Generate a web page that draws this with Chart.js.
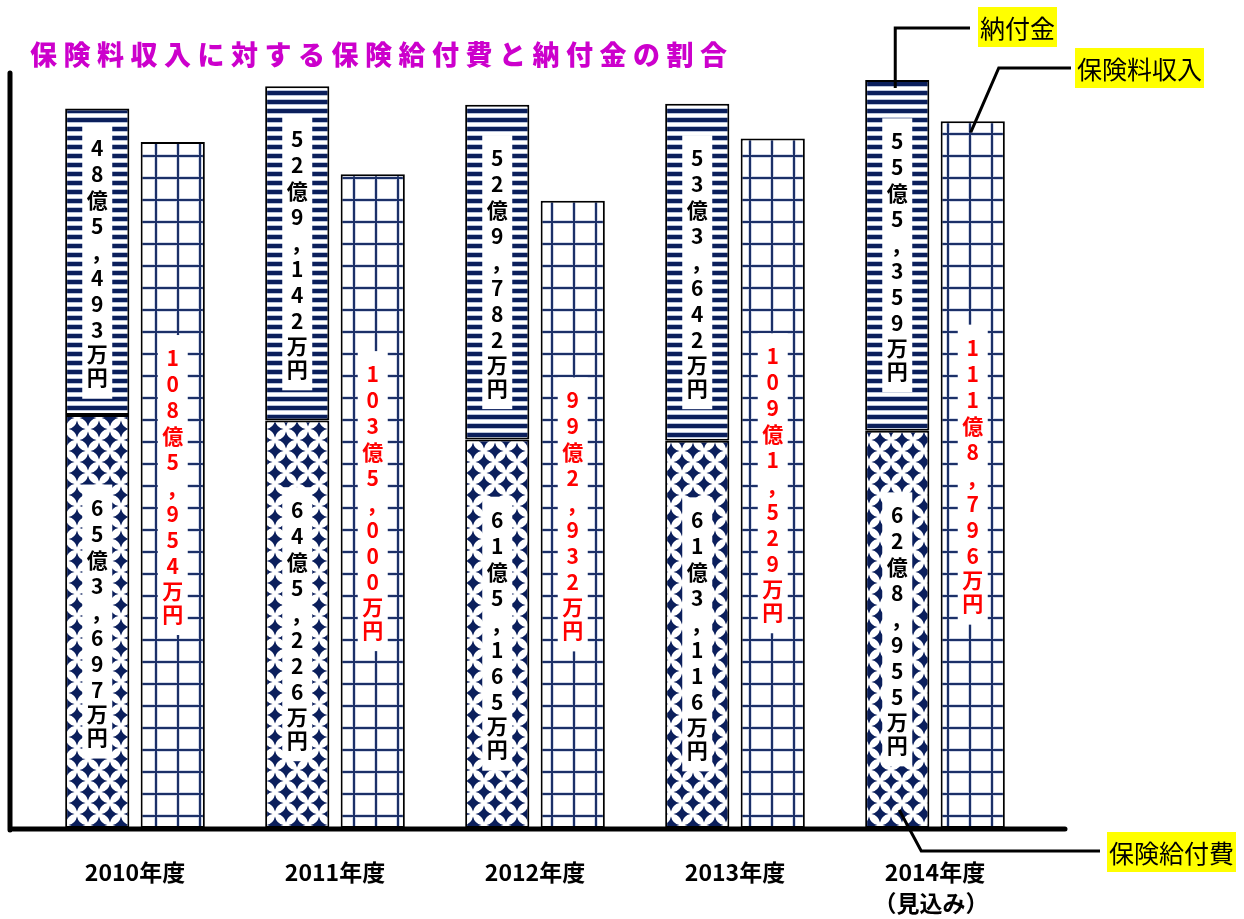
<!DOCTYPE html>
<html lang="ja">
<head>
<meta charset="utf-8">
<title>保険料収入に対する保険給付費と納付金の割合</title>
<script src="https://cdn.jsdelivr.net/npm/chart.js@4.4.1/dist/chart.umd.min.js"></script>
<style>
  html, body { margin: 0; padding: 0; background: #fff; }
  #wrap { width: 1244px; height: 919px; }
</style>
</head>
<body>
<div id="wrap"><canvas id="chart" width="1244" height="919"></canvas></div>
<script>
const years = ['2010年度', '2011年度', '2012年度', '2013年度', '2014年度'];
const yearNotes = ['', '', '', '', '（見込み）'];
// 単位: 万円
const benefits = [653697, 645226, 615165, 613116, 628955];     // 保険給付費
const levies = [485493, 529142, 529782, 533642, 555359];       // 納付金
const incomes = [1085954, 1035000, 992932, 1091529, 1118796];  // 保険料収入
const titleText = '保険料収入に対する保険給付費と納付金の割合';
const yMax = 1200000;

const NAVY = '#0b1f5c';
const FONT = '"Noto Sans CJK JP", "Noto Sans", sans-serif';

function makeTile(w, h, draw) {
    const c = document.createElement('canvas');
    c.width = w;
    c.height = h;
    const g = c.getContext('2d');
    g.fillStyle = '#fff';
    g.fillRect(0, 0, w, h);
    draw(g);
    return document.getElementById('chart').getContext('2d').createPattern(c, 'repeat');
}

const stripes = makeTile(9, 9, (g) => {
    g.fillStyle = '#b9c3da';
    g.fillRect(0, 0, 9, 1);
    g.fillRect(0, 5, 9, 1);
    g.fillStyle = NAVY;
    g.fillRect(0, 1, 9, 4);
});
const grid = makeTile(22, 22, (g) => {
    g.fillStyle = '#d3d9e8';
    g.fillRect(0, 0, 4, 22);
    g.fillRect(0, 0, 22, 4);
    g.fillStyle = '#1c3068';
    g.fillRect(1, 0, 2, 22);
    g.fillRect(0, 1, 22, 2);
});
const diamonds = makeTile(22, 22, (g) => {
    g.fillStyle = NAVY;
    const d = (cx, cy, r) => {
        g.beginPath();
        g.moveTo(cx, cy - r);
        g.quadraticCurveTo(cx + 1.5, cy - 1.5, cx + r, cy);
        g.quadraticCurveTo(cx + 1.5, cy + 1.5, cx, cy + r);
        g.quadraticCurveTo(cx - 1.5, cy + 1.5, cx - r, cy);
        g.quadraticCurveTo(cx - 1.5, cy - 1.5, cx, cy - r);
        g.closePath();
        g.fill();
    };
    d(11, 11, 8.5);
    d(0, 0, 8.5); d(22, 0, 8.5); d(0, 22, 8.5); d(22, 22, 8.5);
});

function toChars(v) {
    const oku = Math.floor(v / 10000);
    const man = (v % 10000).toLocaleString('en-US');
    return (oku + '億' + man + '万円').split('');
}

function callout(ctx, text, bx, by, pts) {
    ctx.save();
    ctx.strokeStyle = '#000';
    ctx.lineWidth = 3;
    ctx.beginPath();
    ctx.moveTo(pts[0][0], pts[0][1]);
    for (let k = 1; k < pts.length; k++) ctx.lineTo(pts[k][0], pts[k][1]);
    ctx.stroke();
    ctx.font = '25px ' + FONT;
    const w = ctx.measureText(text).width;
    ctx.fillStyle = '#ffff00';
    ctx.fillRect(bx, by, w + 4, 40);
    ctx.fillStyle = '#000';
    ctx.textAlign = 'left';
    ctx.textBaseline = 'middle';
    ctx.fillText(text, bx + 2, by + 21);
    ctx.restore();
}

const decor = {
    id: 'decor',
    afterDatasetsDraw(chart) {
        const ctx = chart.ctx;
        const area = chart.chartArea;

        // value labels inside the bars
        chart.data.datasets.forEach((ds, i) => {
            const meta = chart.getDatasetMeta(i);
            meta.data.forEach((el, j) => {
                const chars = toChars(ds.data[j]);
                const steps = chars.map(ch => (ch === '万' || ch === '円') ? 23 : 26);
                const total = steps.reduce((a, b) => a + b, 0);
                const cy = (el.y + el.base) / 2;
                const top = cy - total / 2 - 10;
                ctx.save();
                ctx.fillStyle = '#fff';
                ctx.fillRect(el.x - 15, top, 30, total + 20);
                ctx.fillStyle = ds.textColor;
                ctx.font = 'bold 21px ' + FONT;
                ctx.textAlign = 'center';
                ctx.textBaseline = 'middle';
                let y = top + 10;
                chars.forEach((ch, k) => {
                    ctx.fillText(ch === ',' ? '，' : ch, el.x + (ch === ',' ? 4 : 0), y + steps[k] / 2);
                    y += steps[k];
                });
                ctx.restore();
            });
        });

        // axes
        ctx.save();
        ctx.strokeStyle = '#000';
        ctx.lineWidth = 5;
        ctx.lineCap = 'round';
        ctx.beginPath();
        ctx.moveTo(area.left - 25, area.top + 3);
        ctx.lineTo(area.left - 25, area.bottom + 2);
        ctx.moveTo(area.left - 25, area.bottom + 1);
        ctx.lineTo(area.right + 30, area.bottom + 1);
        ctx.stroke();
        ctx.restore();

        // category labels
        const xs = chart.scales.x;
        ctx.save();
        ctx.fillStyle = '#000';
        ctx.font = 'bold 23px ' + FONT;
        ctx.textAlign = 'center';
        ctx.textBaseline = 'middle';
        years.forEach((lab, i) => {
            const x = xs.getPixelForValue(i);
            ctx.fillText(lab, x, area.bottom + 44);
            if (yearNotes[i]) ctx.fillText(yearNotes[i], x - 4, area.bottom + 75);
        });
        ctx.restore();

        // title
        ctx.save();
        ctx.fillStyle = '#cc00cc';
        ctx.font = '900 27px ' + FONT;
        ctx.letterSpacing = '6.5px';
        ctx.textAlign = 'left';
        ctx.textBaseline = 'middle';
        ctx.fillText(titleText, 30, 55);
        ctx.restore();

        // callouts on the last group
        const last = years.length - 1;
        const pay = chart.getDatasetMeta(0).data[last];
        const lev = chart.getDatasetMeta(1).data[last];
        const inc = chart.getDatasetMeta(2).data[last];
        callout(ctx, '納付金', 978, 7, [[lev.x - 2, lev.y + 8], [lev.x - 2, 28], [970, 28]]);
        callout(ctx, '保険料収入', 1075, 48, [[inc.x - 2, inc.y + 11], [inc.x + 26, 68], [1071, 68]]);
        callout(ctx, '保険給付費', 1107, 832, [[pay.x + 2, pay.base - 18], [pay.x + 24, 851], [1100, 851]]);
    }
};

new Chart(document.getElementById('chart'), {
    type: 'bar',
    data: {
        labels: years,
        datasets: [
            { label: '保険給付費', data: benefits, stack: 'pay', backgroundColor: diamonds, textColor: '#000' },
            { label: '納付金', data: levies, stack: 'pay', backgroundColor: stripes, textColor: '#000' },
            { label: '保険料収入', data: incomes, stack: 'income', backgroundColor: grid, textColor: '#ff0000' }
        ]
    },
    options: {
        responsive: false,
        animation: false,
        layout: { padding: { left: 35, right: 209, top: 70, bottom: 91 } },
        datasets: {
            bar: {
                borderColor: '#000',
                borderWidth: 2,
                borderSkipped: false,
                categoryPercentage: 0.755,
                barPercentage: 0.85
            }
        },
        scales: {
            x: { stacked: true, display: false },
            y: { stacked: true, display: false, min: 0, max: yMax }
        },
        plugins: {
            legend: { display: false },
            tooltip: { enabled: false }
        }
    },
    plugins: [decor]
});
</script>
</body>
</html>
